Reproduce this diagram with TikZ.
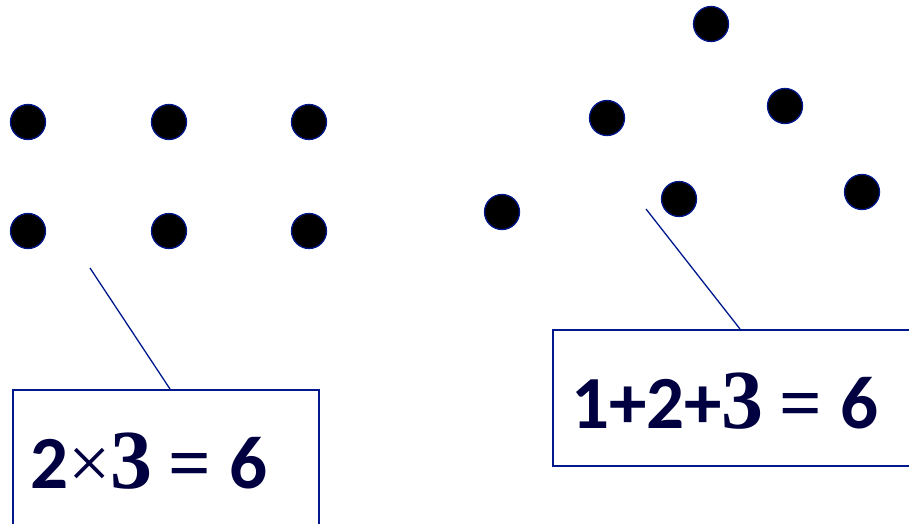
\documentclass[tikz,border=0pt]{standalone}
\usepackage{fontspec}
\newfontfamily\calib{Carlito}
\newfontfamily\serf{Liberation Serif}
\usepackage{tikz}

\definecolor{navy}{RGB}{0,24,140}
\definecolor{ink}{RGB}{0,0,64}

\tikzset{
    dot/.style={circle, fill=black, draw=navy, line width=1.3pt, minimum size=35pt, inner sep=0pt},
    box/.style={draw=navy, line width=1.5pt, anchor=north west, inner sep=0pt},
    sum/.style={anchor=base west, inner sep=0pt, text=ink, font=\fontsize{75}{80}\selectfont\calib\bfseries}
}

\begin{document}
\begin{tikzpicture}[x=1pt, y=-1pt]
    \useasboundingbox (0,0) rectangle (909,524);
    \clip (0,0) rectangle (909,524);

    % Figure 1: two rows of three
    \node[dot] (a1) at (28,122) {};
    \node[dot] (a2) at (169,122) {};
    \node[dot] (a3) at (309,122) {};
    \node[dot] (b1) at (28,231) {};
    \node[dot] (b2) at (169,231) {};
    \node[dot] (b3) at (309,231) {};

    % Box with product
    \node[box, minimum width=306pt, minimum height=160pt] (lbox) at (12,389) {};
    \node[sum] (lsum) at (30,488) {2{\serf\mdseries ×}{\serf\fontsize{84}{80}\selectfont 3}\kern16pt{\serf =}\kern18pt6};
    \coordinate (ltip) at (90,268);
    \draw[navy, line width=1.3pt] (ltip) -- ([xshift=158pt]lbox.north west);

    % Figure 2: triangle of six
    \node[dot] (t1) at (711,24) {};
    \node[dot] (t2) at (607,118) {};
    \node[dot] (t3) at (785,106) {};
    \node[dot] (t4) at (502,212) {};
    \node[dot] (t5) at (679,199) {};
    \node[dot] (t6) at (862,192) {};

    % Box with sum
    \node[box, minimum width=370pt, minimum height=136pt] (rbox) at (552,329) {};
    \node[sum] (rsum) at (571,428) {1+2+{\serf\fontsize{84}{80}\selectfont 3}\kern16pt{\serf =}\kern18pt6};
    \coordinate (rtip) at (646,209);
    \draw[navy, line width=1.3pt] (rtip) -- ([xshift=188pt]rbox.north west);
\end{tikzpicture}
\end{document}
